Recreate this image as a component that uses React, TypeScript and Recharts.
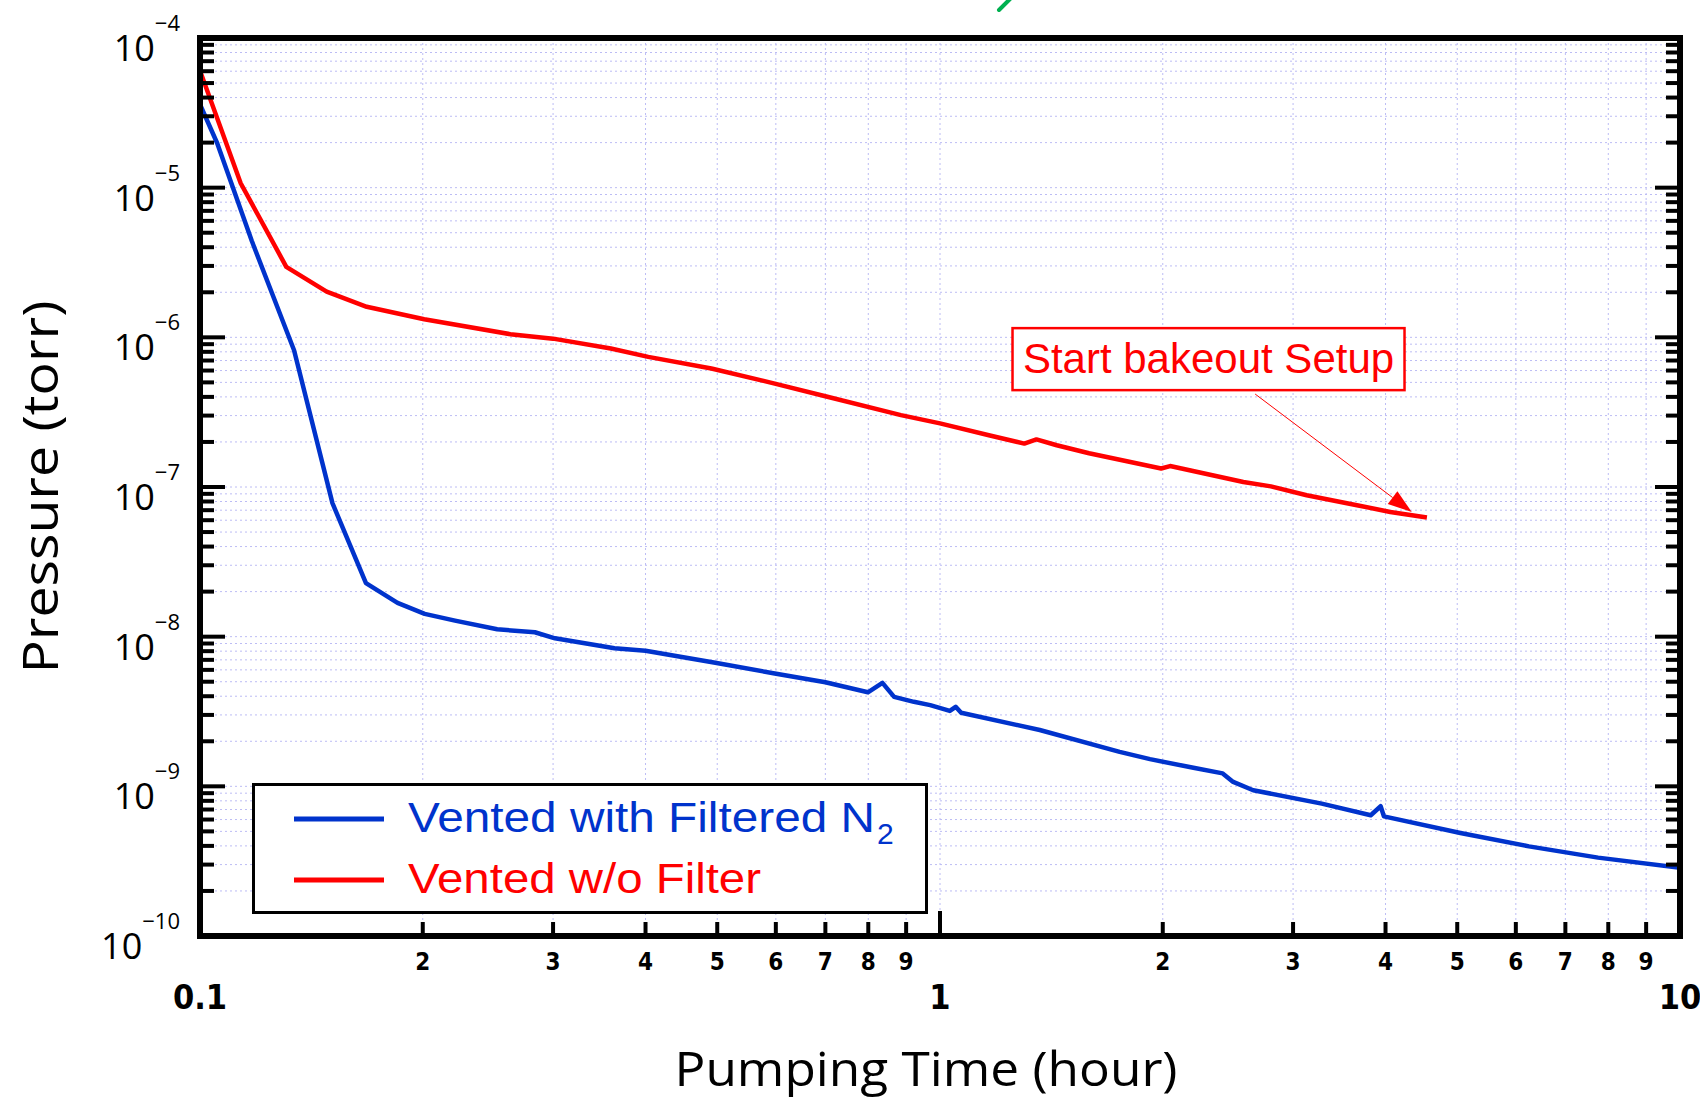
import React from 'react'
import {
  LineChart,
  Line,
  XAxis,
  YAxis,
  CartesianGrid,
  Legend,
  Label,
  ReferenceDot,
  ReferenceLine,
} from 'recharts'

// pumping time (hour) / pressure (torr)
const filteredTime = [
  0.1, 0.1055, 0.1175, 0.134, 0.151, 0.1676, 0.1849, 0.2012, 0.2211, 0.2521, 0.2835, 0.3018,
  0.3632, 0.4, 0.497, 0.598, 0.7, 0.799, 0.836, 0.867, 0.922, 0.97, 1.031, 1.05, 1.068, 1.364,
  1.749, 1.922, 2.2, 2.41, 2.49, 2.65, 3.28, 3.82, 3.94, 3.98, 5.05, 6.25, 7.75, 10,
]
const filteredPressure = [
  3.6e-5, 1.98e-5, 4.4e-6, 8.2e-7, 7.8e-8, 2.28e-8, 1.68e-8, 1.42e-8, 1.28e-8, 1.12e-8, 1.07e-8,
  9.75e-9, 8.36e-9, 8.05e-9, 6.7e-9, 5.67e-9, 4.96e-9, 4.25e-9, 4.91e-9, 3.96e-9, 3.67e-9, 3.49e-9,
  3.19e-9, 3.4e-9, 3.1e-9, 2.38e-9, 1.7e-9, 1.52e-9, 1.33e-9, 1.22e-9, 1.07e-9, 9.42e-10, 7.66e-10,
  6.41e-10, 7.36e-10, 6.3e-10, 4.88e-10, 3.97e-10, 3.34e-10, 2.86e-10,
]

const unfilteredTime = [
  0.1, 0.1135, 0.1308, 0.1483, 0.168, 0.2009, 0.2627, 0.3, 0.3591, 0.4034, 0.491, 0.598, 0.7,
  0.8855, 1.0, 1.168, 1.3, 1.35, 1.438, 1.59, 1.99, 2.046, 2.57, 2.8, 3.13, 3.66, 4.06, 4.55,
]
const unfilteredPressure = [
  6.05e-5, 1.07e-5, 2.96e-6, 2.02e-6, 1.6e-6, 1.32e-6, 1.05e-6, 9.8e-7, 8.42e-7, 7.4e-7, 6.19e-7,
  4.91e-7, 4.04e-7, 3.02e-7, 2.66e-7, 2.21e-7, 1.95e-7, 2.08e-7, 1.9e-7, 1.68e-7, 1.33e-7, 1.38e-7,
  1.08e-7, 1.01e-7, 8.81e-8, 7.56e-8, 6.81e-8, 6.26e-8,
]

const xTicks = [
  0.1, 0.2, 0.3, 0.4, 0.5, 0.6, 0.7, 0.8, 0.9, 1, 2, 3, 4, 5, 6, 7, 8, 9, 10,
]
const yDecades = [-10, -9, -8, -7, -6, -5]
const yMantissas = [1, 2, 3, 4, 5, 6, 7, 8, 9]
const yTicks = [...yDecades.flatMap((e) => yMantissas.map((m) => m * 10 ** e)), 1e-4]

const seriesNames = ['Vented with Filtered N2', 'Vented w/o Filter']
const noteText = 'Start bakeout Setup'
// annotation anchors in data space: box centre, arrow start, arrow tip
const noteAt = { t: 2.306, p: 7.15e-7 }
const arrowFrom = { t: 2.666, p: 4.18e-7 }
const arrowTo = { t: 4.34, p: 6.81e-8 }

const filteredData = filteredTime.map((t, i) => ({ t, p: filteredPressure[i] }))
const unfilteredData = unfilteredTime.map((t, i) => ({ t, p: unfilteredPressure[i] }))

const BLUE = '#0033cc'
const RED = '#ff0000'
const COMIC = "'Open Sans', 'DejaVu Sans', sans-serif"
const NARROW = "'Liberation Sans Narrow', 'DejaVu Sans Condensed', sans-serif"
const ARIAL = "'Liberation Sans', Arial, sans-serif"

const MAJOR_LEN = 25
const MINOR_LEN = 14

const isMajor = (v: number) => Math.abs(Math.log10(v) - Math.round(Math.log10(v))) < 1e-6
const tickLen = (v: number) => (isMajor(v) ? MAJOR_LEN : MINOR_LEN)

function BottomTick({ x, y, payload }: any) {
  const v = payload.value as number
  const major = isMajor(v)
  const digit = Math.round(v / 10 ** Math.floor(Math.log10(v) + 1e-9))
  return (
    <g>
      <line x1={x} x2={x} y1={y} y2={y - tickLen(v)} stroke="#000" strokeWidth={4} />
      {major ? (
        <text x={x} y={y + 73} textAnchor="middle" fontFamily={NARROW} fontWeight="bold" fontSize={34} fill="#000">
          {String(v)}
        </text>
      ) : (
        <text x={x} y={y + 34} textAnchor="middle" fontFamily={NARROW} fontWeight="bold" fontSize={24} fill="#000">
          {digit}
        </text>
      )}
    </g>
  )
}

function TopTick({ x, y, payload }: any) {
  return <line x1={x} x2={x} y1={y} y2={y + tickLen(payload.value)} stroke="#000" strokeWidth={4} />
}

function LeftTick({ x, y, payload }: any) {
  const v = payload.value as number
  const exp = Math.round(Math.log10(v))
  return (
    <g>
      <line x1={x} x2={x + tickLen(v)} y1={y} y2={y} stroke="#000" strokeWidth={4} />
      {isMajor(v) && (
        <text x={x - 20} y={y + 23} textAnchor="end" fontFamily={COMIC} fontSize={36} fill="#000">
          <tspan>10</tspan>
          <tspan dy={-30} fontSize={22}>{`\u2212${-exp}`}</tspan>
        </text>
      )}
    </g>
  )
}

function RightTick({ x, y, payload }: any) {
  return <line x1={x} x2={x - tickLen(payload.value)} y1={y} y2={y} stroke="#000" strokeWidth={4} />
}

function XTitle({ viewBox }: any) {
  const { x, y, width } = viewBox
  return (
    <text
      x={x + width / 2 - 14}
      y={y + 150}
      textAnchor="middle"
      fontFamily={COMIC}
      fontSize={48}
      textLength={503}
      lengthAdjust="spacingAndGlyphs"
      fill="#000"
    >
      Pumping Time (hour)
    </text>
  )
}

function YTitle({ viewBox }: any) {
  const { x, y, height } = viewBox
  const cx = x + 38
  const cy = y + height / 2
  return (
    <text
      x={cx}
      y={cy}
      transform={`rotate(-90, ${cx}, ${cy})`}
      textAnchor="middle"
      fontFamily={COMIC}
      fontSize={50}
      textLength={373}
      lengthAdjust="spacingAndGlyphs"
      fill="#000"
    >
      Pressure (torr)
    </text>
  )
}

function LegendBox({ payload }: any) {
  const items = [...(payload || [])].sort(
    (a: any, b: any) => seriesNames.indexOf(String(a.value)) - seriesNames.indexOf(String(b.value)),
  )
  return (
    <svg width={676} height={131} style={{ display: 'block' }}>
      <rect x={1.5} y={1.5} width={673} height={128} fill="#fff" stroke="#000" strokeWidth={3} />
      {items.map((item: any, i: number) => {
        const cy = 36 + i * 61
        const name = String(item.value)
        const sub = name.endsWith('N2')
        const main = sub ? name.slice(0, -1) : name
        return (
          <g key={name}>
            <line x1={42} x2={132} y1={cy} y2={cy} stroke={item.color} strokeWidth={5} />
            <text
              x={156}
              y={cy + 13}
              fontFamily={ARIAL}
              fontSize={43}
              fill={item.color}
              textLength={sub ? 467 : 353}
              lengthAdjust="spacingAndGlyphs"
            >
              {main}
            </text>
            {sub && (
              <text x={625} y={cy + 25} fontFamily={ARIAL} fontSize={30} fill={item.color}>
                2
              </text>
            )}
          </g>
        )
      })}
    </svg>
  )
}

function NoteBox({ cx, cy }: any) {
  return (
    <g>
      <rect x={cx - 196} y={cy - 31} width={392} height={62} fill="#fff" stroke={RED} strokeWidth={2.5} />
      <text x={cx} y={cy + 14} textAnchor="middle" fontFamily={ARIAL} fontSize={42} fill={RED}>
        {noteText}
      </text>
    </g>
  )
}

function Arrow({ x1, y1, x2, y2 }: any) {
  const dx = x2 - x1
  const dy = y2 - y1
  const len = Math.hypot(dx, dy) || 1
  const ux = dx / len
  const uy = dy / len
  const bx = x2 - ux * 24
  const by = y2 - uy * 24
  const head = `${x2},${y2} ${bx - uy * 8},${by + ux * 8} ${bx + uy * 8},${by - ux * 8}`
  return (
    <g>
      <line x1={x1} y1={y1} x2={bx} y2={by} stroke={RED} strokeWidth={1} />
      <polygon points={head} fill={RED} />
    </g>
  )
}

const axisLine = { stroke: '#000', strokeWidth: 6, strokeLinecap: 'square' as const }

export default function App() {
  return (
    <div style={{ position: 'absolute', left: 0, top: 0, width: 1700, height: 1102, background: '#fff' }}>
      <LineChart width={1700} height={1102} margin={{ top: 8, right: 10, bottom: 16, left: 20 }}>
        <CartesianGrid xAxisId="b" yAxisId="l" stroke="#bcbcf4" strokeDasharray="2 3" strokeWidth={1} />
        <XAxis
          xAxisId="b"
          type="number"
          dataKey="t"
          scale="log"
          domain={[0.1, 10]}
          allowDataOverflow
          ticks={xTicks}
          interval={0}
          height={150}
          tickSize={0}
          tickMargin={0}
          tickLine={false}
          axisLine={axisLine}
          tick={BottomTick}
        >
          <Label content={XTitle} />
        </XAxis>
        <XAxis
          xAxisId="t"
          orientation="top"
          type="number"
          scale="log"
          domain={[0.1, 10]}
          allowDataOverflow
          ticks={xTicks}
          interval={0}
          height={30}
          tickSize={0}
          tickMargin={0}
          tickLine={false}
          axisLine={axisLine}
          tick={TopTick}
        />
        <YAxis
          yAxisId="l"
          type="number"
          scale="log"
          domain={[1e-10, 1e-4]}
          allowDataOverflow
          ticks={yTicks}
          interval={0}
          width={180}
          tickSize={0}
          tickMargin={0}
          tickLine={false}
          axisLine={axisLine}
          tick={LeftTick}
        >
          <Label content={YTitle} />
        </YAxis>
        <YAxis
          yAxisId="r"
          orientation="right"
          type="number"
          scale="log"
          domain={[1e-10, 1e-4]}
          allowDataOverflow
          ticks={yTicks}
          interval={0}
          width={10}
          tickSize={0}
          tickMargin={0}
          tickLine={false}
          axisLine={axisLine}
          tick={RightTick}
        />
        <Line
          xAxisId="b"
          yAxisId="l"
          data={filteredData}
          dataKey="p"
          name={seriesNames[0]}
          type="linear"
          stroke={BLUE}
          strokeWidth={4.5}
          strokeLinejoin="round"
          dot={false}
          activeDot={false}
          isAnimationActive={false}
        />
        <Line
          xAxisId="b"
          yAxisId="l"
          data={unfilteredData}
          dataKey="p"
          name={seriesNames[1]}
          type="linear"
          stroke={RED}
          strokeWidth={4.5}
          strokeLinejoin="round"
          dot={false}
          activeDot={false}
          isAnimationActive={false}
        />
        <ReferenceLine
          xAxisId="b"
          yAxisId="l"
          segment={[
            { x: arrowFrom.t, y: arrowFrom.p },
            { x: arrowTo.t, y: arrowTo.p },
          ]}
          ifOverflow="visible"
          shape={Arrow}
        />
        <ReferenceDot
          xAxisId="b"
          yAxisId="l"
          x={noteAt.t}
          y={noteAt.p}
          ifOverflow="visible"
          shape={NoteBox}
        />
        <Legend
          layout="vertical"
          align="center"
          verticalAlign="middle"
          wrapperStyle={{ left: 252, top: 783, width: 676, height: 131 }}
          content={LegendBox}
        />
      </LineChart>
      {/* clipped stroke of the slide title above the chart */}
      <svg width={1700} height={20} style={{ position: 'absolute', left: 0, top: 0 }}>
        <path d="M999 10 L1010 -1" stroke="#00b050" strokeWidth={4} strokeLinecap="round" />
      </svg>
    </div>
  )
}
